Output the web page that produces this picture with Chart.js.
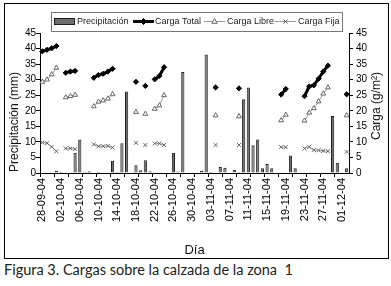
<!DOCTYPE html>
<html><head><meta charset="utf-8">
<script src="https://cdn.jsdelivr.net/npm/chart.js@4.4.1/dist/chart.umd.min.js"></script>
<style>
html,body{margin:0;padding:0;background:#fff;}
body{width:391px;height:286px;position:relative;overflow:hidden;}
#frame{position:absolute;left:4px;top:3px;width:383px;height:254px;border:1px solid #000;background:#fff;}
#frame canvas{display:block;}
#caption{position:absolute;left:4px;top:261px;font-family:'Lato';font-size:14.5px;color:#222;white-space:pre;}
</style></head><body>
<div id="frame"><canvas id="c" width="383" height="254"></canvas></div>
<div id="caption">Figura 3. Cargas sobre la calzada de la zona  1</div>
<script>
const categories = [
 '28-09-04','29-09-04','30-09-04','01-10-04','02-10-04','03-10-04','04-10-04','05-10-04','06-10-04','07-10-04',
 '08-10-04','09-10-04','10-10-04','11-10-04','12-10-04','13-10-04','14-10-04','15-10-04','16-10-04','17-10-04',
 '18-10-04','19-10-04','20-10-04','21-10-04','22-10-04','23-10-04','24-10-04','25-10-04','26-10-04','27-10-04',
 '28-10-04','29-10-04','30-10-04','31-10-04','01-11-04','02-11-04','03-11-04','04-11-04','05-11-04','06-11-04',
 '07-11-04','08-11-04','09-11-04','10-11-04','11-11-04','12-11-04','13-11-04','14-11-04','15-11-04','16-11-04',
 '17-11-04','18-11-04','19-11-04','20-11-04','21-11-04','22-11-04','23-11-04','24-11-04','25-11-04','26-11-04',
 '27-11-04','28-11-04','29-11-04','30-11-04','01-12-04','02-12-04'];

const precipitacion = [
 null,null,null,0.7,0.4,null,null,6.5,10.8,0.4,
 0.6,null,0.3,null,null,3.9,0.3,9.6,26.2,null,
 2.5,0.85,4.1,0.6,null,null,null,null,6.5,0.5,
 32.5,null,null,null,0.7,38.1,0.3,null,1.9,1.7,
 null,1.0,0.3,23.7,27.5,8.9,10.8,1.5,2.9,1.5,
 null,null,null,5.6,1.5,null,null,null,null,null,
 null,null,18.3,3.3,null,1.5];

const cargaTotal = [
 39.1,39.6,40.1,40.8,null,32.2,32.6,32.8,null,null,
 null,30.6,31.5,31.9,32.6,33.5,null,null,null,null,
 29.3,null,28.0,null,30.1,31.2,34.0,null,null,null,
 null,null,null,null,null,null,null,27.5,null,null,
 null,null,27.2,null,null,null,null,null,null,null,
 null,25.2,27.0,null,null,null,24.7,27.8,28.2,30.3,
 32.6,34.5,null,null,null,25.3];

const cargaLibre = [
 29.3,30.0,31.7,33.8,null,24.3,24.7,25.1,null,null,
 null,21.4,22.9,23.3,23.9,25.3,null,null,null,null,
 19.6,null,19.0,null,20.6,21.7,25.0,null,null,null,
 null,null,null,null,null,null,null,18.5,null,null,
 null,null,18.2,null,null,null,null,null,null,null,
 null,16.9,18.7,null,null,null,16.8,19.4,20.8,23.0,
 25.5,27.5,null,null,null,18.5];

const cargaFija = [
 9.8,9.6,8.4,7.0,null,7.9,7.9,7.7,null,null,
 null,9.2,8.6,8.6,8.7,8.2,null,null,null,null,
 9.7,null,9.0,null,9.5,9.5,9.0,null,null,null,
 null,null,null,null,null,null,null,9.0,null,null,
 null,null,9.0,null,null,null,null,null,null,null,
 null,8.3,8.3,null,null,null,7.9,8.4,7.4,7.3,
 7.1,7.0,null,null,null,6.8];

const labelEvery = 4;
const tickEvery = 3;
const FONT = "'Liberation Sans', Arial, sans-serif";
const BAR_FILL = '#6f6f6f', BAR_EDGE = '#1e1e1e';
const GREY_LINE = '#9a9a9a', GREY_MARK = '#666';

function drawMarker(ctx, style, x, y, r, stroke, fill) {
  ctx.save();
  ctx.strokeStyle = stroke; ctx.fillStyle = fill; ctx.lineWidth = 1;
  ctx.beginPath();
  if (style === 'diamond') {
    ctx.moveTo(x, y - r); ctx.lineTo(x + r, y); ctx.lineTo(x, y + r); ctx.lineTo(x - r, y); ctx.closePath();
    ctx.fill(); ctx.stroke();
  } else if (style === 'triangle') {
    ctx.moveTo(x, y - r); ctx.lineTo(x + r * 0.87, y + r * 0.6); ctx.lineTo(x - r * 0.87, y + r * 0.6); ctx.closePath();
    ctx.fill(); ctx.stroke();
  } else {
    const d = r * 0.72;
    ctx.moveTo(x - d, y - d); ctx.lineTo(x + d, y + d); ctx.moveTo(x + d, y - d); ctx.lineTo(x - d, y + d);
    ctx.stroke();
  }
  ctx.restore();
}

const decor = {
  id: 'decor',
  afterDraw(chart) {
    const ctx = chart.ctx, a = chart.chartArea;
    ctx.save();
    ctx.strokeStyle = '#777'; ctx.lineWidth = 1;
    ctx.strokeRect(46.5, 8.5, 291, 19);
    const cy = 17.5;
    ctx.font = '9px ' + FONT; ctx.fillStyle = '#222'; ctx.textBaseline = 'middle'; ctx.textAlign = 'left';
    ctx.fillStyle = BAR_FILL; ctx.fillRect(49, 14, 21, 7);
    ctx.strokeStyle = BAR_EDGE; ctx.strokeRect(49.5, 14.5, 20, 6);
    ctx.fillStyle = '#222'; ctx.fillText('Precipitación', 72, cy);
    ctx.strokeStyle = '#000'; ctx.lineWidth = 3; ctx.beginPath(); ctx.moveTo(128, cy); ctx.lineTo(149, cy); ctx.stroke();
    drawMarker(ctx, 'diamond', 138.5, cy, 3, '#000', '#000');
    ctx.fillStyle = '#222'; ctx.fillText('Carga Total', 150, cy);
    ctx.strokeStyle = GREY_LINE; ctx.lineWidth = 1; ctx.beginPath(); ctx.moveTo(199, cy); ctx.lineTo(220, cy); ctx.stroke();
    drawMarker(ctx, 'triangle', 209.5, cy, 3, GREY_MARK, '#fff');
    ctx.fillStyle = '#222'; ctx.fillText('Carga Libre', 222, cy);
    ctx.strokeStyle = GREY_LINE; ctx.lineWidth = 1; ctx.beginPath(); ctx.moveTo(270, cy); ctx.lineTo(291, cy); ctx.stroke();
    drawMarker(ctx, 'cross', 280.5, cy, 3, GREY_MARK, GREY_MARK);
    ctx.fillStyle = '#222'; ctx.fillText('Carga Fija', 293, cy);
    ctx.fillStyle = '#111'; ctx.font = '12px ' + FONT; ctx.textAlign = 'center';
    ctx.save(); ctx.translate(10, (a.top + a.bottom) / 2 + 19); ctx.rotate(-Math.PI / 2);
    ctx.fillText('Precipitación (mm)', 0, 0); ctx.restore();
    ctx.save(); ctx.translate(372, (a.top + a.bottom) / 2 + 3); ctx.rotate(-Math.PI / 2);
    ctx.fillText('Carga (g/m²)', 0, 0); ctx.restore();
    ctx.restore();
  }
};

new Chart(document.getElementById('c'), {
  data: {
    labels: categories,
    datasets: [
      {type: 'bar', label: 'Precipitación', data: precipitacion, yAxisID: 'y',
       backgroundColor: BAR_FILL, borderColor: BAR_EDGE, borderWidth: 1,
       barPercentage: 0.68, categoryPercentage: 1, order: 4},
      {type: 'line', label: 'Carga Total', data: cargaTotal, yAxisID: 'y1',
       borderColor: '#000', backgroundColor: '#000', borderWidth: 3, tension: 0, spanGaps: false,
       pointStyle: 'rectRot', pointRadius: 2.6, pointBorderWidth: 1, pointBackgroundColor: '#000', pointBorderColor: '#000', order: 1},
      {type: 'line', label: 'Carga Libre', data: cargaLibre, yAxisID: 'y1',
       borderColor: GREY_LINE, borderWidth: 1, tension: 0, spanGaps: false,
       pointStyle: 'triangle', pointRadius: 2.8, pointBorderWidth: 1, pointBackgroundColor: '#fff', pointBorderColor: GREY_MARK, order: 2},
      {type: 'line', label: 'Carga Fija', data: cargaFija, yAxisID: 'y1',
       borderColor: GREY_LINE, borderWidth: 1, tension: 0, spanGaps: false,
       pointStyle: 'crossRot', pointRadius: 2.8, pointBorderWidth: 1, pointBorderColor: GREY_MARK, order: 3}
    ]
  },
  options: {
    responsive: false, animation: false, devicePixelRatio: 1,
    layout: {padding: {top: 29, left: 0, right: 0, bottom: 0}},
    plugins: {legend: {display: false}, tooltip: {enabled: false}, title: {display: false}},
    scales: {
      x: {
        type: 'category', offset: true,
        grid: {offset: true, drawOnChartArea: false, drawTicks: true, tickLength: 4, lineWidth: 1,
               color: (c) => (c.index !== undefined && c.index % tickEvery === 0) ? '#000' : 'rgba(0,0,0,0)'},
        border: {display: true, color: '#000', width: 1},
        ticks: {autoSkip: false, minRotation: 90, maxRotation: 90, padding: 1, color: '#000',
                font: {family: FONT, size: 11},
                callback: (v, i) => (i % labelEvery === 0 ? categories[i] : '')},
        title: {display: true, text: 'Día', color: '#111', font: {family: FONT, size: 13}, padding: {top: 0, bottom: 0}},
        afterFit: (s) => { s.height = 85; }
      },
      y: {
        position: 'left', min: 0, max: 45,
        grid: {drawOnChartArea: false, drawTicks: true, tickLength: 4, color: '#000'},
        border: {display: true, color: '#000', width: 1},
        ticks: {stepSize: 5, padding: 0, color: '#000', font: {family: FONT, size: 10}},
        afterFit: (s) => { s.width = 35; }
      },
      y1: {
        position: 'right', min: 0, max: 45,
        grid: {drawOnChartArea: false, drawTicks: true, tickLength: 4, color: '#000'},
        border: {display: true, color: '#000', width: 1},
        ticks: {stepSize: 5, padding: 3, color: '#000', font: {family: FONT, size: 10}},
        afterFit: (s) => { s.width = 39; }
      }
    }
  },
  plugins: [decor]
});
</script>
</body></html>
